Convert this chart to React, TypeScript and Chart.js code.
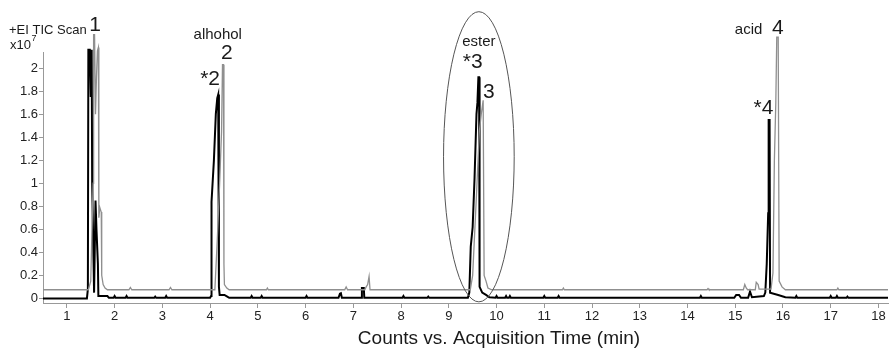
import React, { useEffect, useRef } from "react";
import { Chart, registerables } from "chart.js";

Chart.register(...registerables);

// Retention time (min) and counts (x10^7) — sample trace (black)
const sampleTrace: [number, number][] = [
  [0.5, 0.0], [1.42, 0.0], [1.44, 0.08], [1.45, 2.16], [1.48, 2.16], [1.5, 1.75], [1.52, 2.16], [1.53, 1.0],
  [1.57, 0.05], [1.6, 0.85], [1.62, 0.6], [1.65, 0.3], [1.66, 0.02], [1.85, 0.02], [1.88, 0.005],
  [1.98, 0.005], [2.0, 0.02], [2.02, 0.005],
  [2.23, 0.005], [2.25, 0.02], [2.27, 0.005],
  [2.83, 0.005], [2.85, 0.015], [2.87, 0.005],
  [3.06, 0.005], [3.08, 0.02], [3.1, 0.005],
  [4.0, 0.005], [4.02, 0.02], [4.03, 0.84], [4.08, 1.2], [4.12, 1.6], [4.15, 1.74], [4.17, 1.77],
  [4.185, 0.1], [4.2, 0.03], [4.3, 0.03], [4.36, 0.015], [4.4, 0.005],
  [4.85, 0.005], [4.87, 0.02], [4.89, 0.005],
  [5.06, 0.005], [5.08, 0.02], [5.1, 0.005],
  [6.0, 0.005], [6.02, 0.02], [6.04, 0.005],
  [6.69, 0.005], [6.72, 0.04], [6.74, 0.045], [6.76, 0.005],
  [7.17, 0.005], [7.18, 0.09], [7.22, 0.09], [7.23, 0.005],
  [8.03, 0.005], [8.05, 0.02], [8.07, 0.005],
  [8.55, 0.005], [8.57, 0.015], [8.59, 0.005],
  [9.4, 0.005], [9.43, 0.05], [9.46, 0.45], [9.5, 0.62], [9.54, 1.05], [9.58, 1.6], [9.6, 1.7], [9.62, 1.92],
  [9.635, 1.92], [9.645, 0.1], [9.7, 0.05], [9.78, 0.03], [9.85, 0.01],
  [9.98, 0.005], [10.0, 0.02], [10.02, 0.005],
  [10.18, 0.005], [10.2, 0.02], [10.22, 0.005], [10.26, 0.005], [10.28, 0.02], [10.3, 0.005],
  [10.98, 0.005], [11.0, 0.02], [11.02, 0.005],
  [11.28, 0.005], [11.3, 0.02], [11.32, 0.005],
  [14.26, 0.005], [14.28, 0.02], [14.3, 0.005],
  [14.98, 0.005], [15.02, 0.03], [15.08, 0.03], [15.12, 0.005],
  [15.27, 0.005], [15.31, 0.06], [15.35, 0.01],
  [15.6, 0.02], [15.63, 0.05], [15.66, 0.3], [15.69, 0.74], [15.7, 1.55], [15.72, 1.55], [15.73, 0.05],
  [15.9, 0.03], [16.05, 0.01],
  [16.26, 0.005], [16.28, 0.02], [16.3, 0.005],
  [16.98, 0.005], [17.0, 0.02], [17.02, 0.005],
  [17.11, 0.005], [17.13, 0.02], [17.15, 0.005],
  [17.33, 0.005], [17.35, 0.015], [17.37, 0.005],
  [18.2, 0.005],
];

// Reference trace (gray), offset baseline
const referenceTrace: [number, number][] = [
  [0.5, 0.075], [1.45, 0.075], [1.5, 0.15], [1.55, 1.0], [1.56, 2.29], [1.58, 2.29], [1.6, 1.6], [1.62, 1.92],
  [1.64, 2.15], [1.66, 2.18], [1.67, 0.7], [1.69, 0.79], [1.72, 0.75], [1.73, 0.2], [1.76, 0.12], [1.8, 0.09], [1.85, 0.075],
  [2.3, 0.075], [2.33, 0.095], [2.36, 0.075],
  [3.14, 0.075], [3.17, 0.095], [3.2, 0.075],
  [4.1, 0.075], [4.15, 0.5], [4.2, 1.0], [4.24, 1.45], [4.26, 2.03], [4.28, 2.03], [4.29, 0.3], [4.3, 0.12],
  [4.35, 0.09], [4.4, 0.075],
  [5.18, 0.075], [5.2, 0.09], [5.22, 0.075],
  [6.82, 0.075], [6.85, 0.1], [6.88, 0.075],
  [7.24, 0.075], [7.27, 0.1], [7.3, 0.12], [7.33, 0.19], [7.35, 0.075],
  [9.45, 0.075], [9.5, 0.2], [9.58, 0.9], [9.64, 1.45], [9.68, 1.6], [9.72, 1.72], [9.735, 1.72], [9.74, 0.2],
  [9.78, 0.15], [9.82, 0.09], [9.9, 0.075],
  [11.38, 0.075], [11.4, 0.09], [11.42, 0.075],
  [14.41, 0.075], [14.43, 0.085], [14.45, 0.075],
  [15.17, 0.075], [15.2, 0.12], [15.23, 0.09], [15.26, 0.075],
  [15.42, 0.075], [15.44, 0.14], [15.48, 0.12], [15.5, 0.08],
  [15.75, 0.08], [15.79, 0.22], [15.82, 1.2], [15.85, 1.7], [15.87, 2.27], [15.9, 2.27], [15.92, 0.15],
  [15.98, 0.1], [16.05, 0.075],
  [17.13, 0.075], [17.15, 0.09], [17.17, 0.075],
  [18.2, 0.075],
];

// Peak labels: [text, time (min), counts (x10^7), font size]
const peakLabels: [string, number, number, number][] = [
  ["1", 1.59, 2.37, 21],
  ["alhohol", 4.16, 2.29, 15],
  ["2", 4.35, 2.13, 21],
  ["*2", 4.0, 1.9, 21],
  ["ester", 9.63, 2.23, 15],
  ["*3", 9.5, 2.05, 21],
  ["3", 9.84, 1.79, 21],
  ["acid", 15.28, 2.33, 15],
  ["4", 15.89, 2.35, 21],
  ["*4", 15.59, 1.65, 21],
];

// Highlight ellipse around the ester peak: [centre time, centre counts, half-width (min), half-height (counts)]
const esterEllipse = [9.63, 1.23, 0.74, 1.26];

const xTitle = "Counts vs. Acquisition Time (min)";
const yHeader = "+EI TIC Scan";
const FONT = "'Liberation Sans', Arial, sans-serif";

export default function App() {
  const ref = useRef<HTMLCanvasElement>(null);
  useEffect(() => {
    const ctx = ref.current!.getContext("2d")!;
    const annot = {
      id: "annot",
      afterDatasetsDraw(chart: any) {
        const c = chart.ctx;
        const xs = chart.scales.x;
        const ys = chart.scales.y;
        c.save();
        // ellipse
        const [ex, ey, erx, ery] = esterEllipse;
        const cx = xs.getPixelForValue(ex);
        const cy = ys.getPixelForValue(ey);
        const rx = xs.getPixelForValue(ex + erx) - cx;
        const ry = cy - ys.getPixelForValue(ey + ery);
        c.beginPath();
        c.ellipse(cx, cy, rx, ry, 0, 0, Math.PI * 2);
        c.strokeStyle = "#555";
        c.lineWidth = 1;
        c.stroke();
        // labels
        c.fillStyle = "#1a1a1a";
        c.textAlign = "center";
        c.textBaseline = "middle";
        for (const [t, x, y, s] of peakLabels) {
          c.font = `${s}px ${FONT}`;
          c.fillText(t, xs.getPixelForValue(x), ys.getPixelForValue(y));
        }
        // header
        c.textAlign = "left";
        c.font = `13px ${FONT}`;
        c.fillText(yHeader, 9, 30);
        c.fillText("x10", 10, 45);
        const w = c.measureText("x10").width;
        c.font = `9px ${FONT}`;
        c.fillText("7", 10 + w + 0.5, 39);
        // x title
        c.textAlign = "center";
        c.font = `19px ${FONT}`;
        c.fillText(xTitle, 499, 339);
        c.restore();
      },
    };
    const chart = new Chart(ctx, {
      type: "line",
      data: {
        datasets: [
          {
            data: referenceTrace.map(([x, y]) => ({ x, y })),
            borderColor: "#8f8f8f",
            borderWidth: 1.3,
            pointRadius: 0,
            tension: 0,
            clip: false as any,
          },
          {
            data: sampleTrace.map(([x, y]) => ({ x, y })),
            borderColor: "#000",
            borderWidth: 2,
            pointRadius: 0,
            tension: 0,
            clip: false as any,
          },
        ],
      },
      options: {
        animation: false,
        responsive: true,
        maintainAspectRatio: false,
        layout: { padding: { top: 52, right: 2, left: 0, bottom: 0 } },
        plugins: { legend: { display: false }, tooltip: { enabled: false } },
        scales: {
          x: {
            type: "linear",
            min: 0.5,
            max: 18.2,
            afterFit: (s: any) => { s.height = 46; },
            ticks: { stepSize: 1, includeBounds: false, color: "#222", font: { size: 13, family: FONT }, padding: 1, maxRotation: 0, autoSkip: false },
            grid: { drawOnChartArea: false, drawTicks: true, tickLength: 5, color: "#999" },
            border: { color: "#999", width: 1 },
          },
          y: {
            type: "linear",
            min: -0.04,
            max: 2.14,
            afterFit: (s: any) => { s.width = 43; },
            afterBuildTicks: (s: any) => { s.ticks = s.ticks.filter((t: any) => t.value >= -1e-6 && t.value <= 2.0001); },
            ticks: {
              stepSize: 0.2,
              includeBounds: false,
              color: "#222",
              font: { size: 13, family: FONT },
              padding: 1,
              callback: (v: any) => String(Number(Number(v).toFixed(1))),
            },
            grid: { drawOnChartArea: false, drawTicks: true, tickLength: 4, color: "#999" },
            border: { color: "#999", width: 1 },
          },
        },
      },
      plugins: [annot],
    });
    return () => chart.destroy();
  }, []);
  return (
    <div style={{ position: "absolute", left: 0, top: 0, width: 890, height: 349, background: "#fff" }}>
      <canvas ref={ref} />
    </div>
  );
}
